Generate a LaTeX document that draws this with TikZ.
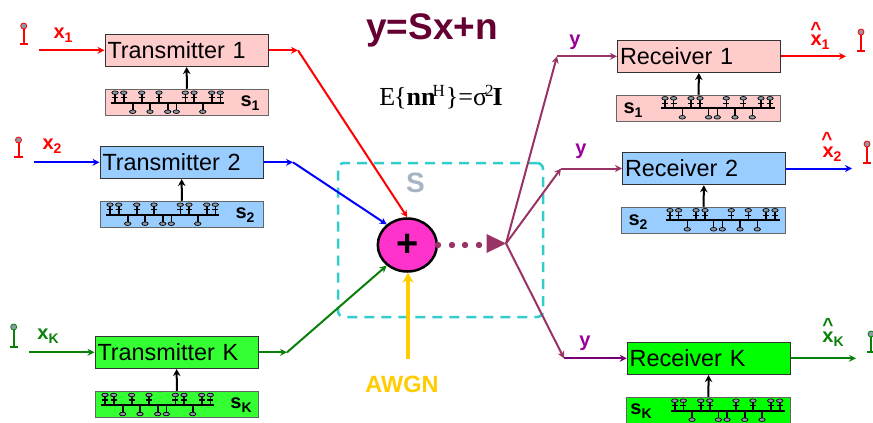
\documentclass[tikz,border=0pt]{standalone}
\usepackage{fontspec}
\setmainfont{Liberation Sans}
\newfontfamily\timesf{Liberation Serif}
\usetikzlibrary{arrows.meta,shapes.geometric}
\definecolor{tpink}{HTML}{FFCCCC}
\definecolor{tblue}{HTML}{99CCFF}
\definecolor{tgreen}{HTML}{33FF33}
\definecolor{rgreen}{HTML}{00FF00}
\definecolor{dgreen}{HTML}{0A800A}
\definecolor{plum}{HTML}{993366}
\definecolor{wine}{HTML}{660033}
\definecolor{vio}{HTML}{990099}
\definecolor{teal2}{HTML}{33CCCC}
\definecolor{gold}{HTML}{FFCC00}
\definecolor{slate}{HTML}{A6B4C4}
\definecolor{pingrey}{HTML}{8C9AA8}
\definecolor{hotpink}{HTML}{FF33CC}
\newcommand{\lab}[2]{{\bfseries\fontsize{20}{20}\selectfont #1\raisebox{-4pt}{\fontsize{14}{14}\selectfont #2}}}
% bar start x, bar y, top pin offsets, bottom pin offsets
\newcommand{\seqcomb}[4]{%
  \draw[line width=2pt] (#1,#2) -- ++(113.5,0);
  \foreach \o in {#3}{%
    \draw[line width=1.6pt] (#1+\o,#2) -- (#1+\o,#2-10);
    \draw[line width=1.4pt] (#1+\o-3,#2-5) -- (#1+\o+3,#2-5);
    \draw[fill=pingrey,line width=.7pt] (#1+\o,#2-10) ellipse[x radius=3.2,y radius=1.8];}
  \foreach \o in {#4}{%
    \draw[line width=1.6pt] (#1+\o,#2) -- (#1+\o,#2+9);
    \draw[fill=pingrey,line width=.7pt] (#1+\o,#2+9) ellipse[x radius=3.2,y radius=1.8];}
}
\newcommand{\antenna}[4]{% x, head y, base y, colour
  \draw[#4,line width=2pt] (#1,#2) -- (#1,#3);
  \draw[#4,line width=2pt] (#1-4.2,#3) -- (#1+4.2,#3);
  \draw[#4,fill=pingrey,line width=.8pt] (#1,#2) circle[radius=3];
}
\tikzset{
  box/.style={draw=black!80,line width=1pt,minimum height=32.5pt,text width=158pt,
     inner xsep=2.5pt,inner ysep=0pt,align=left,font=\fontsize{23.4}{23.4}\selectfont},
  seqbox/.style={draw=black!60,line width=1pt,minimum height=26.5pt,minimum width=163.5pt,inner sep=0pt},
  sig/.style={line width=2pt,-{Stealth[length=7pt,width=7pt]}},
  ctl/.style={black,line width=2pt,-{Stealth[length=7pt,width=7.5pt]}},
  txt/.style={inner sep=0pt},
  hat/.style={txt,font=\bfseries\fontsize{19}{19}\selectfont},
}
\begin{document}
\begin{tikzpicture}[x=1pt,y=-1pt]
\clip (0,0) rectangle (873,423);
\useasboundingbox (0,0) rectangle (873,423);
\fill[white] (0,0) rectangle (873,423);
% channel box
\node[draw=teal2,dash pattern=on 10pt off 7pt,line width=2.5pt,rounded corners=6pt,minimum width=205pt,minimum height=154pt,inner sep=0pt] (chan) at (440.5,240) {};
\node[txt,text=slate,font=\bfseries\fontsize{28}{28}\selectfont] (slab) at (415.5,183) {S};
% titles
\node[txt,text=wine,font=\bfseries\fontsize{37}{37}\selectfont] (eq) at (432,30) {y=Sx+n};
\node[txt,font=\timesf\fontsize{26}{26}\selectfont] (cov) at (441,97) {E\kern-1pt\{\textbf{nn}\kern-3pt\raisebox{9pt}{\fontsize{17}{17}\selectfont H}\kern1pt\}=σ\kern-2pt\raisebox{9pt}{\fontsize{17}{17}\selectfont 2}\kern-1pt\textbf{I}};
% transmitters
\node[box,fill=tpink] (t1) at (186.5,50.3) {Transmitter 1};
\node[seqbox,fill=tpink] (s1) at (187,102.5) {};
\node[box,fill=tblue] (t2) at (181.5,162.3) {Transmitter 2};
\node[seqbox,fill=tblue] (s2) at (182,214.5) {};
\node[box,fill=tgreen] (tk) at (176.5,352.3) {Transmitter K};
\node[seqbox,fill=tgreen] (sk) at (177,404.5) {};
% receivers
\node[box,fill=tpink] (r1) at (699,56.3) {Receiver 1};
\node[seqbox,fill=tpink] (q1) at (698.5,108.5) {};
\node[box,fill=tblue] (r2) at (704,168.5) {Receiver 2};
\node[seqbox,fill=tblue] (q2) at (703.5,220.5) {};
\node[box,fill=rgreen] (rk) at (708.7,358.3) {Receiver K};
\node[seqbox,fill=rgreen] (qk) at (708.3,410.5) {};
% control arrows
\foreach \a/\b in {s1/t1,s2/t2,sk/tk,q1/r1,q2/r2,qk/rk}{\draw[ctl] (\a) -- (\b);}
% combs
\seqcomb{110.7}{102.7}{4.3,13,31,48.3,74.6,83.3,101,109.6}{22,39.3,57,65.6,92}
\seqcomb{105.7}{214.7}{4.3,13,31,48.3,74.6,83.3,101,109.6}{22,39.3,57,65.6,92}
\seqcomb{100.7}{405}{4.3,13,31,48.3,74.6,83.3,101,109.6}{22,39.3,57,65.6,92}
\seqcomb{661.3}{108.3}{3.7,12.3,29.7,38.7,65,82,99.7,108.7}{21,47.3,56,73.7,91}
\seqcomb{666.3}{220.3}{3.7,12.3,29.7,38.7,65,82,99.7,108.7}{21,47.3,56,73.7,91}
\seqcomb{671}{410.7}{3.7,12.3,29.7,38.7,65,82,99.7,108.7}{21,47.3,56,73.7,91}
% adder
\node[ellipse,draw=black,line width=2.5pt,fill=hotpink,minimum width=59pt,minimum height=53pt,inner sep=0pt,font=\bfseries\fontsize{38}{38}\selectfont] (add) at (407.3,245) {+};
% sources
\coordinate (a1) at (39,50.3);  \coordinate (a2) at (34,162.3); \coordinate (ak) at (29,352.3);
\coordinate (j1) at (298,50.3); \coordinate (j2) at (293,162.3); \coordinate (jk) at (287,352.3);
\draw[sig,red] (a1) -- (t1.west);
\draw[sig,blue] (a2) -- (t2.west);
\draw[sig,dgreen] (ak) -- (tk.west);
\draw[sig,red] (t1.east) -- (j1);
\draw[sig,blue] (t2.east) -- (j2);
\draw[sig,dgreen] (tk.east) -- (jk);
\draw[sig,red] (j1) -- (add.north);
\draw[sig,blue] (j2) -- (add.135);
\draw[sig,dgreen] (jk) -- (add.225);
% AWGN
\node[txt,text=gold,font=\bfseries\fontsize{23.5}{23.5}\selectfont] (awgn) at (402,384) {AWGN};
\coordinate (n0) at (408,359);
\draw[gold,line width=3.5pt,-{Stealth[length=10pt,width=11pt]}] (n0) -- (add.south -| n0);
% fan
\coordinate (fan) at (506,243.5);
\foreach \x in {438,452,465,479}{\fill[plum] (\x,245) circle[radius=3.2];}
\fill[plum] (486.5,234) -- (fan) -- (486.5,253) -- cycle;
\coordinate (f1) at (557,56.3); \coordinate (f2) at (561,168.5); \coordinate (fk) at (564,358.3);
\draw[sig,plum] (fan) -- (f1);
\draw[sig,plum] (fan) -- (f2);
\draw[sig,plum] (fan) -- (fk);
\draw[sig,plum] (f1) -- (r1.west);
\draw[sig,plum] (f2) -- (r2.west);
\draw[sig,vio!75!black] (fk) -- (rk.west);
% outputs
\coordinate (o1) at (846,56.3); \coordinate (o2) at (852,168.5); \coordinate (ok) at (856,358.3);
\draw[sig,red] (r1.east) -- (o1);
\draw[sig,blue] (r2.east) -- (o2);
\draw[sig,dgreen] (rk.east) -- (ok);
% antennas
\antenna{23.7}{26}{44.3}{red}
\antenna{18.5}{140}{157}{red}
\antenna{13.7}{327}{346.7}{dgreen}
\antenna{861}{32}{51}{red}
\antenna{867}{144}{163}{red}
\antenna{871}{334}{352}{dgreen}
% labels
\node[txt,text=red] (lx1) at (63,35) {\lab{x}{1}};
\node[txt,text=red] (lx2) at (52,146) {\lab{x}{2}};
\node[txt,text=dgreen] (lxk) at (48,336) {\lab{x}{K}};
\node[txt] (ls1) at (250,103) {\lab{s}{1}};
\node[txt] (ls2) at (245,215) {\lab{s}{2}};
\node[txt] (lsk) at (241,405) {\lab{s}{K}};
\node[txt] (lq1) at (633,110) {\lab{s}{1}};
\node[txt] (lq2) at (638,222) {\lab{s}{2}};
\node[txt] (lqk) at (641,411) {\lab{s}{K}};
\node[txt,text=vio] (ly1) at (575,42) {\lab{y}{}};
\node[txt,text=vio] (ly2) at (581,151) {\lab{y}{}};
\node[txt,text=vio] (lyk) at (585,343) {\lab{y}{}};
\node[txt,text=red] (lh1) at (820,42) {\lab{x}{1}};
\node[hat,text=red] (hh1) at (816,29) {\^{}};
\node[txt,text=red] (lh2) at (832,154) {\lab{x}{2}};
\node[hat,text=red] (hh2) at (827,139) {\^{}};
\node[txt,text=dgreen] (lhk) at (833,339) {\lab{x}{K}};
\node[hat,text=dgreen] (hhk) at (828,325) {\^{}};
\end{tikzpicture}
\end{document}
